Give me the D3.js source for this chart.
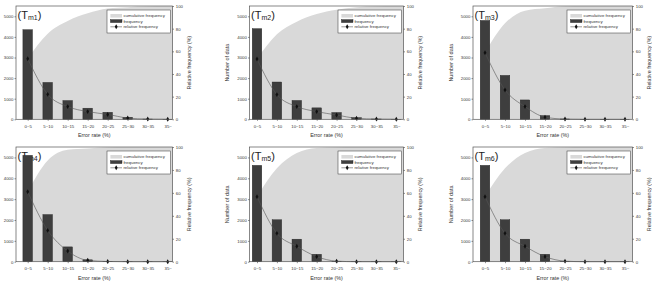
<!DOCTYPE html>
<html>
<head>
<meta charset="utf-8">
<script src="https://cdn.jsdelivr.net/npm/d3@7"></script>
<style>
  body { margin: 0; background: #fff; }
  svg { display: block; font-family: "Liberation Sans", Arial, sans-serif; }
  .tick text { fill: #333; }
  .tick line { stroke: #444; stroke-width: 0.6; }
</style>
</head>
<body>
<div id="chart"></div>
<script>
// error-rate bins shared by every panel
const categories = ['0~5', '5~10', '10~15', '15~20', '20~25', '25~30', '30~35', '35~']
const panelNames = ['m1', 'm2', 'm3', 'm4', 'm5', 'm6']

// frequency (number of data) per bin
const freqM1 = [4350, 1790, 910, 540, 340, 100, 12, 5]
const freqM2 = [4400, 1810, 915, 555, 330, 80, 15, 3]
const freqM3 = [4800, 2130, 940, 180, 15, 3, 2, 1]
const freqM4 = [5100, 2260, 710, 90, 12, 3, 2, 1]
const freqM5 = [4620, 2010, 1080, 355, 20, 3, 2, 1]
const freqM6 = [4620, 2010, 1080, 355, 20, 3, 2, 1]

// relative frequency (%)
const relM1 = [53.5, 22.0, 11.2, 6.8, 4.3, 1.1, 0.2, 0.1]
const relM2 = [53.2, 21.8, 11.2, 6.8, 3.8, 0.9, 0.2, 0.1]
const relM3 = [58.8, 25.9, 11.2, 1.9, 0.2, 0.0, 0.0, 0.0]
const relM4 = [61.0, 27.3, 9.3, 1.2, 0.2, 0.0, 0.0, 0.0]
const relM5 = [56.7, 24.7, 13.4, 4.4, 0.5, 0.0, 0.0, 0.0]
const relM6 = [56.7, 24.7, 13.4, 4.4, 0.5, 0.0, 0.0, 0.0]

// cumulative frequency (%)
const cumM1 = [53.5, 75.5, 86.7, 93.5, 97.8, 99.0, 99.8, 100]
const cumM2 = [53.2, 75.0, 86.2, 93.0, 96.8, 99.0, 99.8, 100]
const cumM3 = [58.8, 84.7, 95.9, 98.0, 99.8, 100, 100, 100]
const cumM4 = [61.0, 88.3, 97.6, 98.8, 99.8, 100, 100, 100]
const cumM5 = [56.7, 81.4, 94.8, 99.2, 99.7, 100, 100, 100]
const cumM6 = [56.7, 81.4, 94.8, 99.2, 99.7, 100, 100, 100]

const countTicks = [0, 1000, 2000, 3000, 4000, 5000]
const percentTicks = [0, 20, 40, 60, 80, 100]
const legendLabels = ['cumulative frequency', 'frequency', 'relative frequency']

const freqList = [freqM1, freqM2, freqM3, freqM4, freqM5, freqM6]
const relList = [relM1, relM2, relM3, relM4, relM5, relM6]
const cumList = [cumM1, cumM2, cumM3, cumM4, cumM5, cumM6]

const W = 652, H = 282
const colLayout = [
    { left: 16, right: 172.5, first: 27.7, step: 20 },
    { left: 249.5, right: 403.5, first: 257, step: 19.9 },
    { left: 473, right: 632.5, first: 485, step: 20 }
]
const rowLayout = [
    { top: 6, bottom: 119.3 },
    { top: 147, bottom: 261.7 }
]

const svg = d3.select('#chart').append('svg')
    .attr('width', W)
    .attr('height', H)

const diamond = d3.symbol().type(d3.symbolDiamond).size(7)

panelNames.forEach((name, p) => {
    const col = colLayout[p % 3]
    const row = rowLayout[Math.floor(p / 3)]
    const freq = freqList[p], rel = relList[p], cum = cumList[p]

    const x = d3.scaleLinear()
        .domain([0, categories.length - 1])
        .range([col.first, col.first + (categories.length - 1) * col.step])
    const y = d3.scaleLinear().domain([0, 5500]).range([row.bottom, row.top])
    const yR = d3.scaleLinear().domain([0, 100]).range([row.bottom, row.top])

    const g = svg.append('g')

    // cumulative frequency area, runs on to the right frame
    let pts = cum.map((v, i) => [x(i), yR(v)])
    pts.push([col.right, yR(cum[cum.length - 1])])
    const area = d3.area()
        .x(d => d[0])
        .y0(row.bottom)
        .y1(d => d[1])
        .curve(d3.curveMonotoneX)
    g.append('path')
        .attr('d', area(pts))
        .attr('fill', '#d9d9d9')

    // panel title (T_mN)
    const title = g.append('text')
        .attr('x', col.left + 1.5)
        .attr('y', row.top + 12.5)
        .attr('font-size', 11)
        .attr('fill', '#222')
    title.append('tspan').text('(T')
    title.append('tspan').attr('font-size', 7).attr('dy', 1.5).text(name)
    title.append('tspan').attr('dy', -1.5).text(')')

    // frequency bars
    const bw = col.step * 0.48
    g.selectAll('.bar')
        .data(freq)
        .enter()
        .append('rect')
        .attr('class', 'bar')
        .attr('x', (d, i) => x(i) - bw / 2)
        .attr('y', d => y(d))
        .attr('width', bw)
        .attr('height', d => row.bottom - y(d))
        .attr('fill', '#3e3e3e')
        .attr('stroke', '#222')
        .attr('stroke-width', 0.4)

    // relative frequency line + markers
    const line = d3.line()
        .x((d, i) => x(i))
        .y(d => yR(d))
        .curve(d3.curveMonotoneX)
    g.append('path')
        .attr('d', line(rel))
        .attr('fill', 'none')
        .attr('stroke', '#555')
        .attr('stroke-width', 0.6)
    g.selectAll('.mark')
        .data(rel)
        .enter()
        .append('path')
        .attr('class', 'mark')
        .attr('d', diamond)
        .attr('transform', (d, i) => `translate(${x(i)}, ${yR(d)})`)
        .attr('fill', '#111')

    // legend
    const lx = col.right - 65.5, ly = row.top + 4
    const legend = g.append('g').attr('transform', `translate(${lx}, ${ly})`)
    legend.append('rect')
        .attr('width', 63.5)
        .attr('height', 23)
        .attr('fill', '#fff')
        .attr('stroke', '#333')
        .attr('stroke-width', 0.5)
    legend.append('rect')
        .attr('x', 3.4).attr('y', 4).attr('width', 11.6).attr('height', 3.6)
        .attr('fill', '#d9d9d9')
    legend.append('rect')
        .attr('x', 3.4).attr('y', 9.6).attr('width', 11.6).attr('height', 3)
        .attr('fill', '#3e3e3e').attr('stroke', '#222').attr('stroke-width', 0.4)
    legend.append('line')
        .attr('x1', 3.4).attr('x2', 15).attr('y1', 16.8).attr('y2', 16.8)
        .attr('stroke', '#555').attr('stroke-width', 0.6)
    legend.append('path')
        .attr('d', diamond)
        .attr('transform', 'translate(9.2, 16.8)')
        .attr('fill', '#111')
    legend.selectAll('.leg-text')
        .data(legendLabels)
        .enter()
        .append('text')
        .attr('class', 'leg-text')
        .attr('x', 16.4)
        .attr('y', (d, i) => 7.4 + i * 5.5)
        .attr('font-size', 4.4)
        .attr('fill', '#333')
        .text(d => d)

    // frame
    g.append('rect')
        .attr('x', col.left)
        .attr('y', row.top)
        .attr('width', col.right - col.left)
        .attr('height', row.bottom - row.top)
        .attr('fill', 'none')
        .attr('stroke', '#555')
        .attr('stroke-width', 0.7)

    // axes
    const leftAxis = g.append('g')
        .attr('transform', `translate(${col.left}, 0)`)
        .call(d3.axisLeft(y).tickValues(countTicks).tickFormat(d3.format('d'))
            .tickSize(1.5).tickSizeOuter(0).tickPadding(1.2))
    const rightAxis = g.append('g')
        .attr('transform', `translate(${col.right}, 0)`)
        .call(d3.axisRight(yR).tickValues(percentTicks).tickFormat(d3.format('d'))
            .tickSize(1.5).tickSizeOuter(0).tickPadding(1.8))
    const bottomAxis = g.append('g')
        .attr('transform', `translate(0, ${row.bottom})`)
        .call(d3.axisBottom(x).tickValues(d3.range(categories.length))
            .tickFormat(i => categories[i]).tickSize(1.5).tickSizeOuter(0).tickPadding(4))
    ;[leftAxis, rightAxis, bottomAxis].forEach(a => {
        a.select('.domain').remove()
        a.selectAll('text').attr('font-size', 4.3).attr('font-family', null)
    })

    // axis titles (the first column's left title falls outside the picture)
    if (p % 3 !== 0) {
        g.append('text')
            .attr('transform', `translate(${col.left - 22}, ${(row.top + row.bottom) / 2}) rotate(-90)`)
            .attr('text-anchor', 'middle')
            .attr('dy', '0.35em')
            .attr('font-size', 5.5)
            .attr('fill', '#333')
            .text('Number of data')
    }
    g.append('text')
        .attr('transform', `translate(${col.right + 17}, ${(row.top + row.bottom) / 2}) rotate(-90)`)
        .attr('text-anchor', 'middle')
        .attr('dy', '0.35em')
        .attr('font-size', 5.3)
        .attr('fill', '#333')
        .text('Relative frequency (%)')
    g.append('text')
        .attr('x', (col.left + col.right) / 2)
        .attr('y', row.bottom + 17.8)
        .attr('text-anchor', 'middle')
        .attr('font-size', 5.4)
        .attr('fill', '#333')
        .text('Error rate (%)')
})
</script>
</body>
</html>
